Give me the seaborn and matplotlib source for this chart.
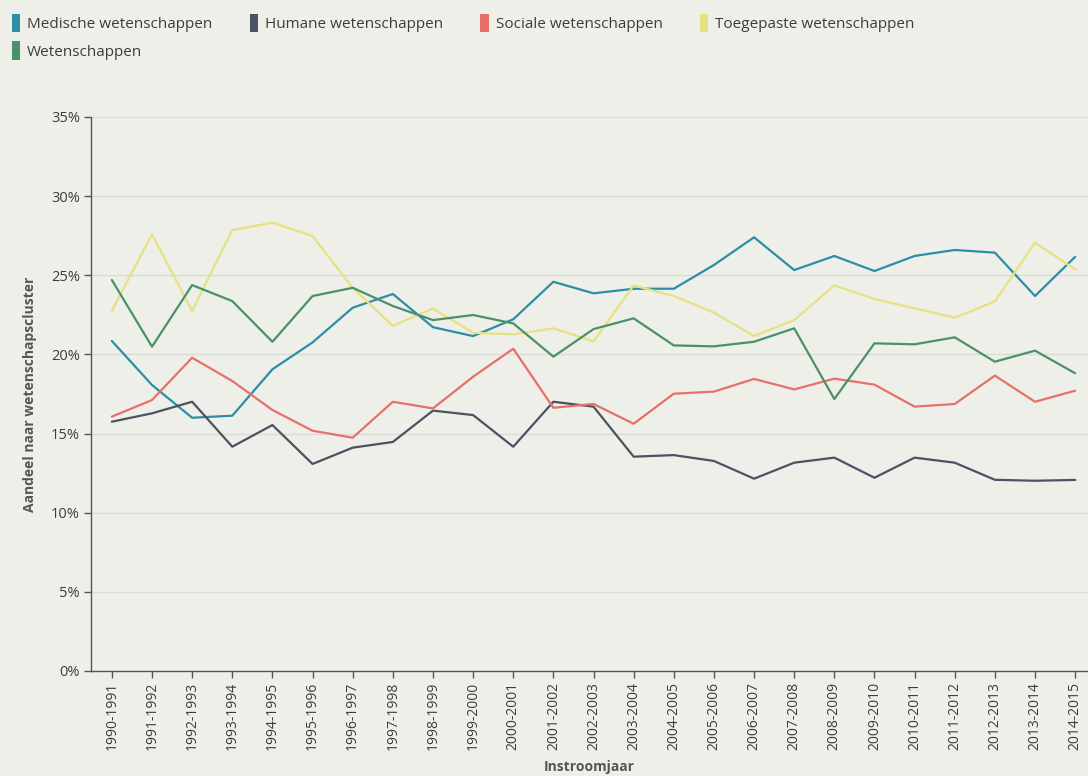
import numpy as np
import pandas as pd
import matplotlib
matplotlib.use("Agg")
import matplotlib.pyplot as plt
from matplotlib.patches import Patch
import seaborn as sns

years = ["1990-1991", "1991-1992", "1992-1993", "1993-1994", "1994-1995", "1995-1996",
         "1996-1997", "1997-1998", "1998-1999", "1999-2000", "2000-2001", "2001-2002",
         "2002-2003", "2003-2004", "2004-2005", "2005-2006", "2006-2007", "2007-2008",
         "2008-2009", "2009-2010", "2010-2011", "2011-2012", "2012-2013", "2013-2014",
         "2014-2015"]

medische = [20.85, 18.07, 16.0, 16.13, 19.06, 20.76, 22.95, 23.82, 21.72, 21.16, 22.22, 24.59,
            23.86, 24.15, 24.15, 25.65, 27.40, 25.33, 26.22, 25.27, 26.22, 26.60, 26.43, 23.69, 26.17]
humane = [15.75, 16.28, 17.01, 14.17, 15.54, 13.08, 14.11, 14.47, 16.45, 16.17, 14.17, 17.01,
          16.70, 13.54, 13.64, 13.27, 12.15, 13.16, 13.48, 12.21, 13.48, 13.16, 12.08, 12.02, 12.07]
sociale = [16.07, 17.12, 19.79, 18.32, 16.49, 15.18, 14.74, 17.01, 16.59, 18.59, 20.36, 16.63,
           16.87, 15.62, 17.52, 17.65, 18.45, 17.79, 18.47, 18.09, 16.70, 16.87, 18.66, 17.01, 17.71]
toegepaste = [22.76, 27.59, 22.74, 27.86, 28.32, 27.48, 24.2, 21.81, 22.90, 21.37, 21.27, 21.65,
              20.83, 24.36, 23.69, 22.64, 21.16, 22.17, 24.36, 23.50, 22.91, 22.32, 23.35, 27.06, 25.37]
wetenschappen = [24.70, 20.49, 24.38, 23.37, 20.80, 23.69, 24.21, 23.06, 22.17, 22.49, 21.96, 19.86,
                 21.60, 22.28, 20.57, 20.51, 20.80, 21.65, 17.18, 20.70, 20.64, 21.08, 19.54, 20.24, 18.81]

series_names = ["Medische wetenschappen", "Humane wetenschappen", "Sociale wetenschappen",
                "Toegepaste wetenschappen", "Wetenschappen"]
series_values = [medische, humane, sociale, toegepaste, wetenschappen]
colors = ["#2b8ea6", "#4b5262", "#e6706a", "#e7e17f", "#4a9169"]
y_ticks = [0, 5, 10, 15, 20, 25, 30, 35]

bg = "#efefea"
text_c = "#3c3c3c"

sns.set_theme(style="white")
plt.rcParams["font.family"] = ["Open Sans", "DejaVu Sans"]

rows = []
for name, vals in zip(series_names, series_values):
    for y, v in zip(years, vals):
        rows.append({"Instroomjaar": y, "Aandeel": v, "Cluster": name})
df = pd.DataFrame(rows)

fig = plt.figure(figsize=(10.88, 7.76), dpi=100, facecolor=bg)
ax = fig.add_axes([91 / 1088, 105 / 776, 1 - 91 / 1088, (671 - 117) / 776])
ax.set_facecolor(bg)

sns.lineplot(data=df, x="Instroomjaar", y="Aandeel", hue="Cluster",
             hue_order=series_names, palette=colors, linewidth=1.6,
             sort=False, legend=False, ax=ax)

ax.set_ylim(0, 35)
ax.set_xlim(-0.52, len(years) - 1 + 0.32)
ax.set_yticks(y_ticks)
ax.set_yticklabels([f"{t}%" for t in y_ticks], fontsize=10.5, color=text_c)
ax.set_xticks(range(len(years)))
ax.set_xticklabels(years, rotation=90, fontsize=10, color=text_c)

ax.grid(axis="y", color="#dcdcd6", linewidth=1)
ax.grid(axis="x", visible=False)
ax.set_axisbelow(True)
for s in ["top", "right"]:
    ax.spines[s].set_visible(False)
for s in ["left", "bottom"]:
    ax.spines[s].set_color("#555555")
    ax.spines[s].set_linewidth(1)
ax.tick_params(axis="both", which="major", length=5, width=1, color="#555555",
               direction="out", left=True, bottom=True, pad=3)

ax.set_ylabel("Aandeel naar wetenschapscluster", fontsize=10, fontweight="bold",
              color="#555555", labelpad=10)
ax.set_xlabel("Instroomjaar", fontsize=10, fontweight="bold", color="#555555", labelpad=7)

# row-major ordering for a column-filled legend
order = [0, 4, 1, 2, 3]
handles = [Patch(facecolor=colors[i], edgecolor="none") for i in order]
labels = [series_names[i] for i in order]
fig.legend(handles, labels, loc="upper left", bbox_to_anchor=(-0.002, 1.0),
           ncol=4, frameon=False, fontsize=11, handlelength=0.55, handleheight=1.5,
           handletextpad=0.45, columnspacing=2.45, labelspacing=0.58, labelcolor=text_c)

fig.savefig("out.png", dpi=100, facecolor=bg)
